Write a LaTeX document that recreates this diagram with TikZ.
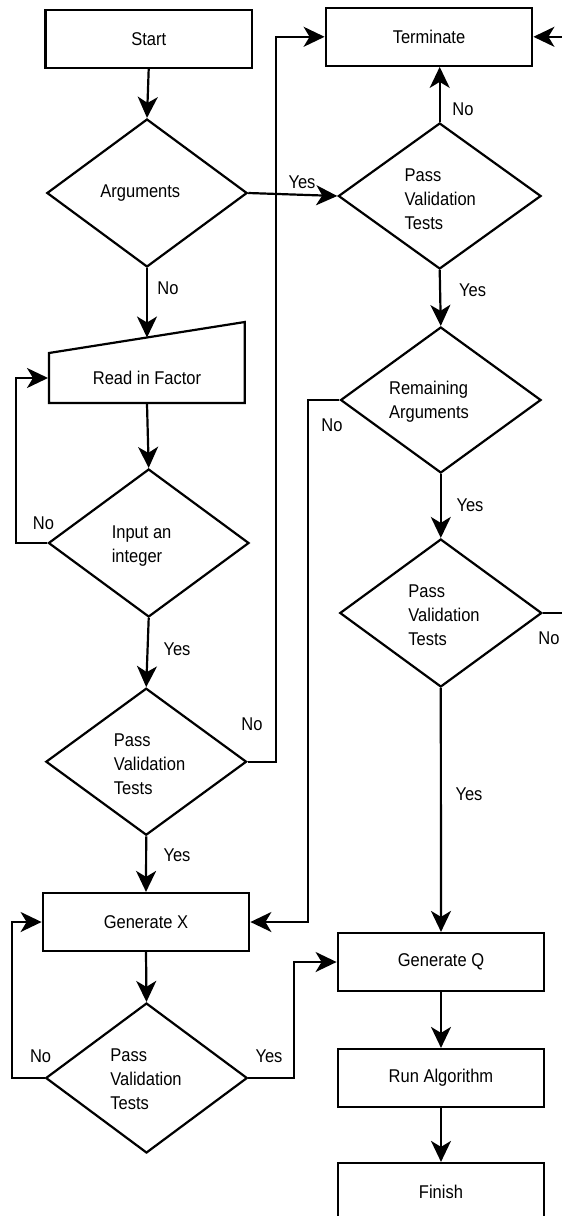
\documentclass[tikz,border=0pt]{standalone}
\usepackage{fontspec}
\setmainfont{Liberation Sans}
\usetikzlibrary{shapes.geometric,arrows.meta}
\newcommand{\tx}[1]{\scalebox{1}[1.12]{#1}}
\begin{document}
\begin{tikzpicture}[x=1pt,y=-1pt,line width=2.2pt,
  >={Stealth[length=21pt,width=20pt,inset=6pt]},
  txt/.style={inner sep=0pt,font=\fontsize{16.5}{24}\selectfont,align=left},
  box/.style={draw,rectangle,inner sep=0pt,minimum width=206.6pt,minimum height=58pt,font=\fontsize{16.5}{24}\selectfont},
  dec/.style={draw,diamond,inner sep=0pt},
  lbl/.style={inner sep=0pt,font=\fontsize{16.5}{24}\selectfont}]
\clip (0,0) rectangle (562,1216);
\fill[white] (0,0) rectangle (562,1216);

% boxes
\node[box] (start) at (148.7,39) {\tx{Start}};
\node[box] (term) at (429,36.8) {\tx{Terminate}};
\node[box] (genx) at (146,922) {\tx{Generate X}};
\node[box] (genq) at (441,962) {\tx{Generate Q}};
\node[box] (run) at (441,1078) {\tx{Run Algorithm}};
\node[box] (fin) at (441,1192) {\tx{Finish}};

% diamonds
\node[dec,minimum width=200.3pt,minimum height=148pt] (args) at (147,193) {};
\node[dec,minimum width=202.7pt,minimum height=146pt] (pv1) at (439.7,196) {};
\node[dec,minimum width=200.6pt,minimum height=148pt] (inp) at (148.7,543) {};
\node[dec,minimum width=200.7pt,minimum height=147pt] (pv2) at (146.2,761.7) {};
\node[dec,minimum width=201.6pt,minimum height=150pt] (pv4) at (146.5,1078) {};
\node[dec,minimum width=200.5pt,minimum height=146pt] (ra) at (440.8,400) {};
\node[dec,minimum width=202pt,minimum height=148pt] (pv3) at (440.8,613) {};

% manual input
\draw (49,353) -- (244.8,322) -- (244.8,403) -- (49,403) -- cycle;
\node[inner sep=0pt,minimum width=195.8pt,minimum height=50pt,font=\fontsize{16.5}{24}\selectfont] (rif) at (147,378) {\tx{Read in Factor}};
\coordinate (riftop) at (147,337.5);

% diamond texts
\node[txt] (argst) at (140.3,193) {\tx{Arguments}};
\node[txt] (pv1t) at (440.3,199) {\tx{Pass}\\\tx{Validation}\\\tx{Tests}};
\node[txt] (inpt) at (141.6,546) {\tx{Input an}\\\tx{integer}};
\node[txt] (pv2t) at (149.6,764) {\tx{Pass}\\\tx{Validation}\\\tx{Tests}};
\node[txt] (rat) at (429,402) {\tx{Remaining}\\\tx{Arguments}};
\node[txt] (pv3t) at (444,615) {\tx{Pass}\\\tx{Validation}\\\tx{Tests}};
\node[txt] (pv4t) at (146,1079) {\tx{Pass}\\\tx{Validation}\\\tx{Tests}};

% connectors
\draw[->] (start.south) -- (args.north);
\draw[->] (args.east) -- (pv1.west);
\draw[->] (pv1.north) -- (pv1.north |- term.south);
\draw[->] (pv2.east) -- ++(28.5,0) |- (term.west);
\draw[->] (args.south) -- (riftop);
\draw[->] (rif.south) -- (inp.north);
\draw[->] (inp.west) -- ++(-31.6,0) |- (rif.west);
\draw[->] (inp.south) -- (pv2.north);
\draw[->] (pv2.south) -- (genx.north);
\draw[->] (pv1.south) -- (ra.north);
\draw[->] (ra.west) -- ++(-31.5,0) |- (genx.east);
\draw[->] (ra.south) -- (pv3.north);
\draw[->] (pv3.east) -- ++(35,0) |- (term.east);
\draw[->] (pv3.south) -- (genq.north);
\draw[->] (genx.south) -- (pv4.north);
\draw[->] (pv4.west) -- ++(-33,0) |- (genx.west);
\draw[->] (pv4.east) -- ++(45.2,0) |- (genq.west);
\draw[->] (genq.south) -- (run.north);
\draw[->] (run.south) -- (fin.north);

% labels
\node[lbl] (l1) at (302,182) {\tx{Yes}};
\node[lbl] (l2) at (463,109) {\tx{No}};
\node[lbl] (l3) at (168,288) {\tx{No}};
\node[lbl] (l4) at (472.6,290) {\tx{Yes}};
\node[lbl] (l5) at (43.5,523) {\tx{No}};
\node[lbl] (l6) at (332,425) {\tx{No}};
\node[lbl] (l7) at (470,505) {\tx{Yes}};
\node[lbl] (l8) at (177,649) {\tx{Yes}};
\node[lbl] (l9) at (252,724) {\tx{No}};
\node[lbl] (l10) at (177,855) {\tx{Yes}};
\node[lbl] (l11) at (469,794) {\tx{Yes}};
\node[lbl] (l12) at (549,638) {\tx{No}};
\node[lbl] (l13) at (40.6,1056) {\tx{No}};
\node[lbl] (l14) at (269,1056) {\tx{Yes}};
\end{tikzpicture}
\end{document}
